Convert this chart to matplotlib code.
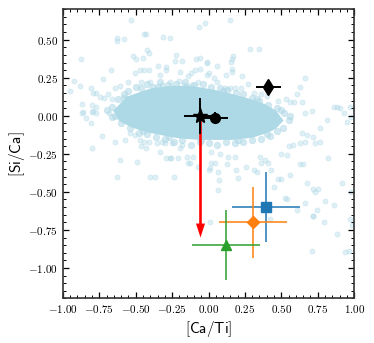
import matplotlib
matplotlib.use('Agg')
import matplotlib.pyplot as plt
from matplotlib.ticker import MultipleLocator, FuncFormatter

plt.rcParams['mathtext.fontset'] = 'cm'

# outline of the saturated core of the background sample
core_x = [-0.63, -0.55, -0.40, -0.25, -0.10, 0.05, 0.18, 0.29, 0.38, 0.45, 0.49,
          0.45, 0.40, 0.30, 0.17, -0.06, -0.20, -0.29, -0.42, -0.52, -0.60]
core_y = [0.03, 0.11, 0.16, 0.18, 0.175, 0.15, 0.12, 0.09, 0.06, 0.02, -0.03,
          -0.07, -0.095, -0.125, -0.14, -0.14, -0.13, -0.115, -0.09, -0.06, -0.02]

# fuzzy fringe just outside the core
fringe_x = [-0.66, -0.62, -0.58, -0.55, -0.50, -0.46, -0.42, -0.38, -0.33, -0.28,
            -0.22, -0.16, -0.10, -0.04, 0.02, 0.08, 0.13, 0.19, 0.24, 0.30,
            0.35, 0.41, 0.47, 0.52, 0.55, 0.51, 0.47, 0.42, 0.36, 0.30,
            0.24, 0.18, 0.12, 0.06, 0.00, -0.06, -0.12, -0.18, -0.24, -0.30,
            -0.36, -0.42, -0.48, -0.54, -0.60, -0.66, -0.70, -0.58, -0.35, -0.15,
            0.10, 0.33, 0.50, 0.40, 0.20, -0.05, -0.27, -0.45, -0.64, 0.56]
fringe_y = [0.06, 0.11, 0.14, 0.16, 0.19, 0.18, 0.21, 0.19, 0.22, 0.20,
            0.21, 0.22, 0.20, 0.21, 0.19, 0.18, 0.17, 0.15, 0.14, 0.12,
            0.10, 0.07, 0.05, 0.02, -0.03, -0.08, -0.10, -0.13, -0.15, -0.16,
            -0.17, -0.18, -0.17, -0.19, -0.18, -0.17, -0.19, -0.16, -0.17, -0.15,
            -0.14, -0.12, -0.11, -0.08, -0.05, -0.01, 0.04, 0.12, 0.19, 0.19,
            0.16, 0.11, 0.04, -0.12, -0.16, -0.16, -0.14, -0.10, 0.00, 0.00]

out_x = [-0.533, -0.44, -0.43, -0.63, -0.63, -0.58, -0.31, -0.265, -0.063, -0.022,
         -0.874, -0.52, -0.50, -0.45, -0.425, -0.41, -0.22, -0.23, -0.18, -0.086,
         -0.058, -0.01, -0.668, -0.725, -0.92, -0.95, -0.88, -0.47, -0.44, -0.41,
         -0.345, -0.29, -0.29, -0.505, -0.33, -0.196, -0.139, -0.122, -0.093, -0.058,
         -0.012, -0.55, -0.46, -0.40, -0.61, -0.32, -0.265, -0.20, -0.17, -0.11,
         -0.07, -0.81, -0.79, -0.77, -0.745, -0.72, -0.64, -0.87, -0.80, -0.77,
         -0.86, -0.80, -0.69, -0.66,
         0.148, 0.285, 0.35, 0.17, 0.16, 0.155, 0.056, -0.01, 0.0, 0.035,
         0.057, 0.118, 0.16, 0.16, 0.23, 0.27, 0.66, 0.63, 0.61, 0.11,
         0.15, 0.18, 0.22, 0.31, 0.36, 0.40, 0.48, 0.53, 0.56, 0.59,
         0.64, 0.86, 0.88, 0.97, 0.71, 0.66,
         -0.865, -0.84, -0.81, -0.79, -0.77, -0.68, -0.73, -0.80, -0.64, -0.574,
         -0.61, -0.63, -0.49, -0.46, -0.43, -0.54, -0.505, -0.47, -0.44, -0.41,
         -0.40, -0.37, -0.237, -0.33, -0.30, -0.265, -0.29, -0.26, -0.21, -0.15,
         -0.127, -0.139, -0.105, -0.07, -0.356, -0.32, -0.253, -0.196, -0.184,
         0.81, 0.98, 0.766, 0.72, 0.766, 0.64, 0.675, 0.82, 0.915, 0.72,
         0.755, 0.733, 0.80, 0.86, 0.72, 0.66, 0.526, 0.537, 0.45, 0.56,
         0.475, 0.50, 0.43, 0.315, 0.33, 0.20, 0.067, 0.072, 0.067, 0.01,
         0.045, 0.13, 0.19, 0.26, 0.354, 0.39, 0.41, 0.36, 0.50, 0.54,
         0.63, 0.65, 0.55, 0.58, 0.63, 0.66, 0.73, 0.02, 0.08, 0.135,
         0.18, 0.02, 0.0, 0.98,
         0.01, 0.42, 0.606, 0.744, 0.72, 0.79, 0.88, 0.71, 0.94, 0.965,
         0.985, 0.675, 0.97, 0.95, 0.93, 0.90]
out_y = [0.629, 0.54, 0.54, 0.51, 0.49, 0.507, 0.52, 0.51, 0.583, 0.607,
         0.376, 0.39, 0.37, 0.38, 0.43, 0.41, 0.40, 0.36, 0.36, 0.37,
         0.38, 0.354, 0.30, 0.245, 0.23, 0.166, 0.195, 0.30, 0.30, 0.30,
         0.33, 0.32, 0.30, 0.28, 0.27, 0.29, 0.26, 0.28, 0.30, 0.31,
         0.27, 0.223, 0.22, 0.22, 0.197, 0.20, 0.22, 0.23, 0.20, 0.20,
         0.22, 0.18, 0.15, 0.15, 0.125, 0.114, 0.18, 0.077, 0.07, 0.06,
         0.026, 0.026, 0.14, 0.11,
         0.627, 0.44, 0.44, 0.39, 0.37, 0.354, 0.33, 0.35, 0.28, 0.25,
         0.22, 0.27, 0.31, 0.29, 0.26, 0.21, 0.25, 0.19, 0.14, 0.18,
         0.18, 0.18, 0.18, 0.153, 0.14, 0.13, 0.10, 0.11, 0.09, 0.09,
         0.09, 0.06, 0.06, 0.06, 0.03, 0.02,
         0.016, -0.017, -0.05, 0.03, 0.02, 0.02, -0.13, -0.21, -0.175, -0.16,
         -0.29, -0.40, -0.305, -0.20, -0.21, -0.115, -0.127, -0.16, -0.17, -0.17,
         -0.40, -0.40, -0.40, -0.24, -0.18, -0.28, -0.28, -0.28, -0.275, -0.27,
         -0.31, -0.31, -0.27, -0.334, -0.18, -0.17, -0.18, -0.21, -0.19,
         -0.028, -0.007, -0.08, -0.14, -0.175, -0.115, -0.127, -0.28, -0.44, -0.48,
         -0.48, -0.50, -0.557, -0.585, -0.66, -0.574, -0.54, -0.55, -0.47, -0.39,
         -0.415, -0.415, -0.355, -0.355, -0.37, -0.41, -0.487, -0.42, -0.367, -0.345,
         -0.31, -0.32, -0.355, -0.334, -0.27, -0.29, -0.31, -0.31, -0.25, -0.26,
         -0.32, -0.32, -0.20, -0.19, -0.18, -0.17, -0.18, -0.24, -0.25, -0.27,
         -0.27, -0.31, -0.355, -0.50,
         -0.70, -0.68, -0.62, -0.62, -0.66, -0.70, -0.78, -0.89, -0.895, -0.89,
         -0.716, -0.44, -0.68, -0.04, 0.02, 0.05]

# highlighted stars: x, y, xerr, yerr
black_x = [-0.055, 0.045, 0.41]
black_y = [0.0, -0.017, 0.19]
black_xerr = [0.11, 0.09, 0.085]
black_yerr = [0.12, 0.04, 0.03]
black_markers = ['*', 'o', 'd']
black_sizes = [11, 7, 8]

col_x = [0.393, 0.304, 0.122]
col_y = [-0.60, -0.70, -0.85]
col_xerr = [0.232, 0.235, 0.233]
col_yerr = [0.23, 0.232, 0.23]
col_markers = ['s', 'D', '^']
col_colors = ['C0', 'C1', 'C2']
col_sizes = [6.5, 6.5, 7]

# arrow: start and drop in [Si/Ca]
arrow_x, arrow_y, arrow_dy = -0.055, 0.0, -0.80

fig = plt.figure(figsize=(3.74, 3.43), dpi=100)
ax = fig.add_axes([0.168, 0.130, 0.779, 0.843])

ax.fill(core_x, core_y, color='lightblue', lw=4, ec='lightblue', zorder=1)
ax.scatter(fringe_x, fringe_y, s=22, color='lightblue', alpha=0.55, lw=0.5, zorder=1)
ax.scatter(out_x, out_y, s=14, color='lightblue', alpha=0.4, lw=0.5, zorder=1)

ax.arrow(arrow_x, arrow_y, 0, arrow_dy, width=0.018, head_width=0.062,
         head_length=0.092, length_includes_head=True, color='red', lw=0, zorder=3)

for i in range(3):
    ax.errorbar(col_x[i], col_y[i], xerr=col_xerr[i], yerr=col_yerr[i],
                fmt=col_markers[i], color=col_colors[i], ms=col_sizes[i],
                elinewidth=1.1, zorder=4)

for i in range(3):
    ax.errorbar(black_x[i], black_y[i], xerr=black_xerr[i], yerr=black_yerr[i],
                fmt=black_markers[i], color='k', ms=black_sizes[i],
                elinewidth=1.4, zorder=5)

ax.set_xlim(-1.0, 1.0)
ax.set_ylim(-1.2, 0.7)
ax.xaxis.set_major_locator(MultipleLocator(0.25))
ax.xaxis.set_minor_locator(MultipleLocator(0.05))
ax.yaxis.set_major_locator(MultipleLocator(0.25))
ax.yaxis.set_minor_locator(MultipleLocator(0.05))
fmt = FuncFormatter(lambda v, p: '$%.2f$' % v)
ax.xaxis.set_major_formatter(fmt)
ax.yaxis.set_major_formatter(fmt)
ax.tick_params(which='both', direction='in', top=True, right=True, labelsize=8)
ax.tick_params(which='major', length=4, width=0.9)
ax.tick_params(which='minor', length=2, width=0.7)
for s in ax.spines.values():
    s.set_linewidth(1.2)
    s.set_color('#333333')

ax.set_xlabel(r'$\mathsf{[Ca/Ti]}$', fontsize=11, labelpad=3)
ax.set_ylabel(r'$\mathsf{[Si/Ca]}$', fontsize=11, labelpad=1)

fig.savefig('out.png', dpi=100)
